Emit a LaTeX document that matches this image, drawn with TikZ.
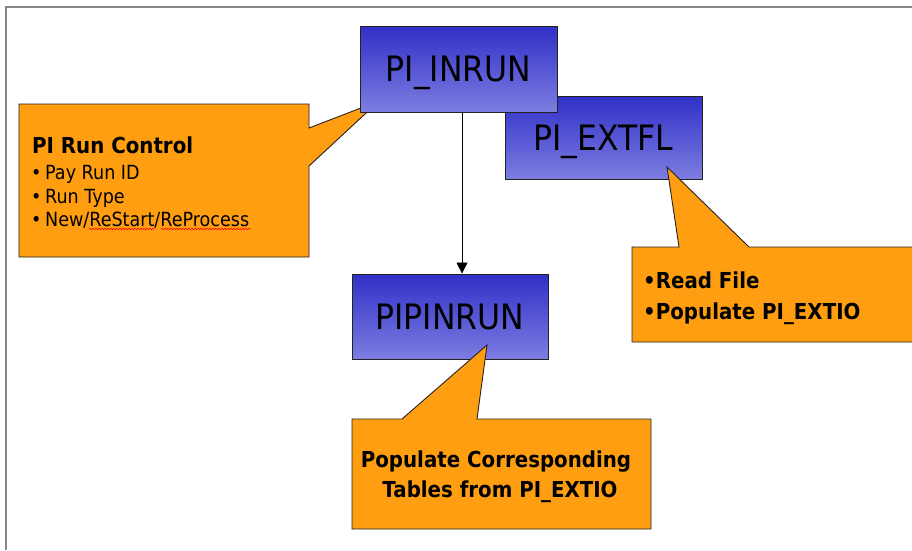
\documentclass[tikz,border=0pt]{standalone}
\usepackage{fontspec}
\setmainfont{DejaVu Sans}[FakeStretch=0.9]
\usetikzlibrary{arrows.meta,decorations.pathmorphing}
\definecolor{boxtop}{RGB}{48,48,200}
\definecolor{boxbot}{RGB}{125,125,225}
\definecolor{notefill}{RGB}{255,158,16}
\definecolor{edgecol}{RGB}{35,35,35}
\definecolor{framegray}{RGB}{135,135,135}

\begin{document}
\begin{tikzpicture}[x=1pt,y=-1pt,
  tablebox/.style={rectangle, draw=edgecol, line width=0.9pt,
    top color=boxtop, bottom color=boxbot, inner sep=0pt,
    text height=25.5pt, text depth=0pt,
    font=\fontsize{35}{40}\selectfont},
  callout/.style={fill=notefill, draw=edgecol, line width=0.9pt, line join=miter},
  txt/.style={inner sep=0pt, anchor=base west},
  ttl/.style={txt, font=\bfseries\fontsize{22}{26}\selectfont},
  item/.style={txt, font=\fontsize{19.5}{23}\selectfont},
  bolditem/.style={txt, font=\bfseries\fontsize{22}{26}\selectfont},
  flow/.style={draw=black, line width=0.8pt, -{Triangle[width=11pt,length=11pt]}},
  spell/.style={draw=red, line width=0.5pt, decorate,
    decoration={snake, amplitude=0.8pt, segment length=3pt}}]
\useasboundingbox (0,0) rectangle (912,550);
\fill[white] (0,0) rectangle (912,550);

% slide frame
\draw[framegray, line width=1.2pt] (6,550) -- (6,7) -- (912,7);

% left note (pointer tucked under PI_INRUN)
\draw[callout] (19,104) -- (309,104) -- (309,128) -- (379,101) -- (309,166)
  -- (309,257) -- (19,257) -- cycle;

% tables
\node[tablebox, minimum width=197pt, minimum height=83pt] (extfl) at (603.5,137.5) {PI\_EXTFL};
\node[tablebox, minimum width=197pt, minimum height=86pt] (inrun) at (458.5,69) {PI\_INRUN};
\node[tablebox, minimum width=196pt, minimum height=85pt] (pipinrun) at (450,316.5) {PIPINRUN};

\draw[flow] ([xshift=3.5pt]inrun.south) -- ([xshift=12pt]pipinrun.north);

% right and bottom notes
\draw[callout] (632,247) -- (679,247) -- (667,167) -- (749,247) -- (930,247)
  -- (930,342) -- (632,342) -- cycle;
\draw[callout] (352,419) -- (402,419) -- (487,345) -- (477,419) -- (651,419)
  -- (651,529) -- (352,529) -- cycle;

% left note text
\node[ttl] (rctitle) at (32,153) {PI Run Control};
\node[item] (rc1) at (31,179) {\makebox[14pt][l]{•}Pay Run ID};
\node[item] (rc2) at (31,203) {\makebox[14pt][l]{•}Run Type};
\node[item] (rc3) at (31,226) {\makebox[14pt][l]{•}New/ReStart/ReProcess};
\draw[spell] (89,229) -- (155,229);
\draw[spell] (161,229) -- (251,229);

% right note text
\node[bolditem] (ext1) at (643,288) {•Read File};
\node[bolditem] (ext2) at (643,319) {•Populate PI\_EXTIO};

% bottom note text
\node[bolditem, anchor=base] (pop1) at (496,467) {Populate Corresponding};
\node[bolditem, anchor=base] (pop2) at (500,497) {Tables from PI\_EXTIO};
\end{tikzpicture}
\end{document}
